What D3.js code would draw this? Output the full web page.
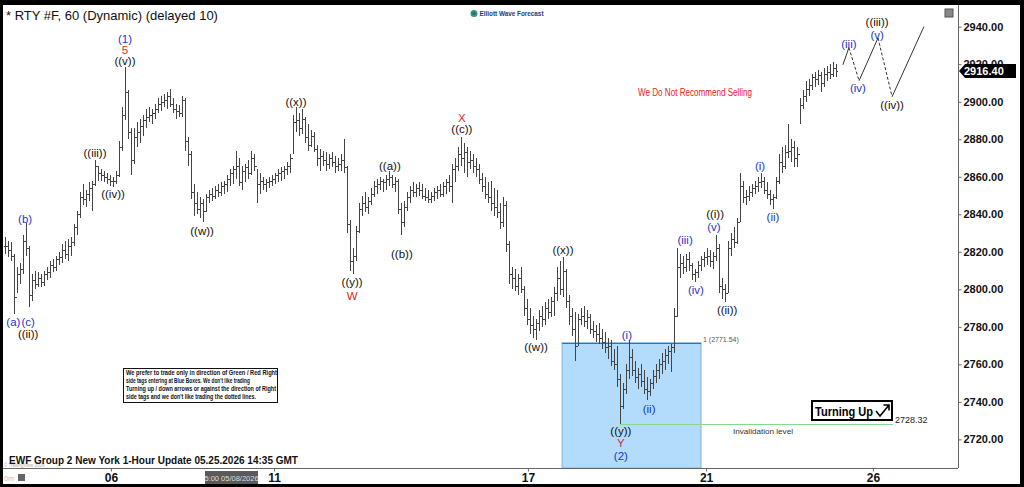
<!DOCTYPE html>
<html><head><meta charset="utf-8">
<script src="https://cdn.jsdelivr.net/npm/d3@7"></script>
<style>
html,body{margin:0;padding:0;background:#000;}
svg{display:block;font-family:"Liberation Sans",Arial,sans-serif;}
</style></head><body>
<svg id="c" width="1024" height="487"></svg>
<script>
// ---------- DATA ----------
const titleText = "* RTY #F, 60 (Dynamic) (delayed 10)";
const footerText = "EWF Group 2 New York 1-Hour Update 05.25.2026 14:35 GMT";
const yTicks = [2720,2740,2760,2780,2800,2820,2840,2860,2880,2900,2920,2940];
const xTickLabels = ["06","11","17","21","26"];
const xTickIdx = [35.3, 89.7, 174.3, 233.7, 289.3];
const lastPrice = 2916.40;
const boxTop = 2771.54;
const boxFrom = 185.7, boxTo = 232;
const invalidation = 2728.32;
const invalidationFrom = 205;
const invalidationTo = 296;
// hourly bars: [high, low, close] (open = previous close)
const bars = [
[2828,2819,2823],[2826,2817,2821],[2825,2815,2818],[2819,2787,2796],[2812,2798,2808],
[2814,2803,2811],[2829,2808,2826],[2835.5,2818,2822],[2823,2790.7,2797],[2808,2794,2805],
[2810,2800,2803],[2809,2801,2806],[2808,2801,2804],[2810,2802,2808],[2812,2805,2809],
[2815,2806,2813],[2816,2809,2812],[2818,2810,2816],[2820,2813,2817],[2824,2814,2821],
[2826,2816,2819],[2827,2815,2823],[2828,2818,2825],[2835,2823,2833],[2842,2829,2840],
[2852,2838,2849],[2856,2845,2848],[2853,2844,2851],[2857,2847,2854],[2858,2842,2856],
[2869,2855,2866],[2866,2858,2862],[2864,2858,2861],[2863,2857,2860],[2862,2856,2859],
[2861,2855,2858],[2860,2854.5,2858],[2863,2856,2861],[2879,2860,2876],[2897,2874,2893],
[2918.7,2890,2905],[2906,2880,2884],[2886,2861,2869],[2886,2867,2881],[2889,2876,2884],
[2891,2878,2887],[2893,2882,2890],[2896,2886,2892],[2897,2889,2893],[2896,2888,2894],
[2899,2891,2896],[2902,2894,2899],[2903,2895,2900],[2904,2897,2901],[2905,2896,2903],
[2907,2897,2899],[2902,2894,2896],[2899,2891,2895],[2898,2892,2894],[2903,2892,2901],
[2902,2874,2879],[2881,2866,2872],[2874,2848,2852],[2856,2839,2846],[2852,2840,2843],
[2849,2838,2846],[2848,2836,2842],[2851,2841,2849],[2853,2846,2851],[2854,2847,2850],
[2855,2848,2853],[2856,2849,2852],[2857,2850,2855],[2858,2851,2856],[2861,2852,2859],
[2864,2855,2862],[2866,2856,2864],[2874,2859,2866],[2870,2855,2857],[2866,2853,2863],
[2867,2857,2865],[2869,2859,2862],[2874,2861,2870],[2872,2863,2866],[2864,2846,2856],
[2862,2851,2858],[2860,2853,2856],[2859,2852,2857],[2860,2854,2858],[2861,2855,2859],
[2862,2856,2861],[2864,2857,2862],[2865,2858,2863],[2866,2859,2864],[2868,2861,2866],
[2872,2862,2870],[2893,2872,2889],[2897,2884,2890],[2894,2882,2886],[2896,2883,2891],
[2892,2878,2881],[2888,2874,2877],[2885,2876,2882],[2884,2873,2875],[2877,2866,2870],
[2875,2863,2871],[2874,2866,2869],[2873,2863,2867],[2872,2864,2870],[2873,2865,2868],
[2871,2862,2866],[2870,2863,2867],[2872,2863,2869],[2880,2862,2865],[2866,2830,2835],
[2837,2810,2815],[2822,2808,2818],[2834,2815,2831],[2846,2830,2843],[2850,2839,2846],
[2852,2841,2844],[2849,2840,2847],[2854,2845,2851],[2858,2849,2855],[2859,2851,2856],
[2860,2853,2858],[2859,2852,2857],[2861,2853,2859],[2863,2855,2860],[2861,2854,2856],
[2860,2852,2858],[2859,2840,2843],[2846,2829,2836],[2847,2833,2844],[2852,2842,2849],
[2855,2846,2853],[2857,2849,2852],[2856,2849,2854],[2857,2850,2853],[2856,2848,2850],
[2854,2847,2849],[2853,2846,2848],[2852,2846,2850],[2854,2847,2852],[2855,2848,2853],
[2856,2849,2851],[2857,2849,2855],[2859,2851,2857],[2861,2852,2855],[2867,2846,2864],
[2870,2857,2866],[2876,2863,2872],[2881,2866,2870],[2878,2862,2873],[2876,2860,2868],
[2874,2864,2869],[2872,2862,2866],[2870,2860,2864],[2867,2856,2859],[2862,2852,2855],
[2860,2848,2851],[2857,2846,2849],[2858,2842,2846],[2854,2839,2844],[2853,2838,2841],
[2846,2832,2836],[2849,2833,2845],[2847,2820,2824],[2826,2803,2808],[2812,2800,2806],
[2811,2799,2802],[2808,2797,2806],[2812,2798,2800],[2802,2786,2790],[2795,2781,2784],
[2790,2776,2781],[2786,2774,2779],[2784,2773,2782],[2789,2778,2786],[2791,2780,2784],
[2793,2781,2790],[2795,2784,2788],[2796,2785,2794],[2801,2786,2798],[2812,2794,2806],
[2815,2797,2800],[2817,2796,2810],[2811,2790,2794],[2797,2781,2786],[2790,2775,2779],
[2788,2762,2770],[2787,2770,2784],[2790,2781,2786],[2791,2780,2783],[2789,2779,2785],
[2787,2776,2779],[2783,2774,2778],[2781,2772,2776],[2782,2771,2774],[2779,2768,2772],
[2777,2766,2769],[2774,2763,2770],[2773,2759,2762],[2768,2757,2760],[2770,2748,2752],
[2755,2728.32,2738],[2750,2736,2747],[2760,2744,2757],[2773,2752,2764],[2768,2754,2757],
[2762,2750,2753],[2758,2747,2755],[2760,2748,2751],[2757,2744,2747],[2753,2741,2746],
[2752,2743,2750],[2757,2747,2754],[2760,2750,2757],[2763,2752,2760],[2766,2755,2762],
[2768,2757,2765],[2770,2760,2767],[2771,2756,2769],[2790,2766,2786],[2822,2785,2812],
[2819,2806,2814],[2818,2808,2812],[2819,2809,2816],[2820,2810,2813],[2814,2805,2808],
[2811,2804,2809],[2815,2806,2813],[2818,2810,2816],[2820,2812,2817],[2822,2813,2818],
[2821,2812,2815],[2820,2811,2818],[2829,2815,2822],[2824,2798,2802],[2806,2795,2800],
[2803,2793,2798],[2826,2798,2822],[2830,2818,2827],[2833,2822,2825],[2838,2824,2836],
[2862,2836,2855],[2858,2846,2849],[2853,2845,2850],[2855,2847,2852],[2856,2849,2854],
[2858,2851,2855],[2860,2852,2857],[2862,2854,2858],[2860,2851,2853],[2857,2848,2851],
[2853,2845,2848],[2851,2843,2849],[2860,2848,2858],[2872,2856,2868],[2876,2862,2866],
[2877,2864,2873],[2888,2870,2874],[2880,2868,2876],[2879,2865,2870],[2876,2865,2872],
[2902,2888,2898],[2906,2896,2903],[2911,2900,2907],[2912,2903,2909],[2915,2906,2913],
[2916,2908,2912],[2917,2909,2914],[2916,2905,2910],[2918,2908,2915],[2919,2911,2916],
[2920,2912,2915],[2921,2913,2918],[2920,2913,2916.4]
];
// projected path (bar index, price)
const projection = [[279.3,2919.7],[281.3,2928.8],[284.7,2911.2],[291,2934],[295.7,2902.7],[306.3,2940]];
const projDashed = [false,true,false,true,false];
// wave labels: text, bar index, price, colour group
const waveLabels = [
["(1)",40,2933.6,"b"],["5",40,2927.7,"r"],["((v))",40,2921.9,"k"],
["((iii))",30,2872.8,"k"],["((iv))",36,2850.9,"k"],
["(b)",6.7,2837.6,"b"],["(a)",2.8,2782.8,"b"],["(c)",7.7,2782.8,"b"],["((ii))",7.7,2776.3,"k"],
["((w))",65.7,2831.2,"k"],["((x))",97,2900,"k"],["((y))",115.7,2804,"k"],["W",115.7,2796.5,"r"],
["((a))",128.3,2865.9,"k"],["((b))",132.3,2818.9,"k"],["X",152.3,2891.5,"r"],["((c))",152.3,2885.6,"k"],
["((w))",177,2769.3,"k"],["((x))",186,2821.1,"k"],["(i)",207.3,2775.7,"b"],["(ii)",214.7,2736.3,"b"],
["((y))",205.3,2724.5,"k"],["Y",205.3,2718.1,"y"],["(2)",205.3,2711.2,"b"],
["(iii)",226.7,2826.4,"b"],["(iv)",230.3,2799.7,"b"],["((i))",236.7,2840.3,"k"],["(v)",236.3,2833.3,"b"],["((ii))",240.7,2789.1,"k"],
["(i)",251.7,2865.9,"b"],["(ii)",256,2838.7,"b"],
["(iii)",281.3,2930.9,"b"],["(iv)",284.3,2907.5,"b"],["((iii))",290.7,2942.7,"k"],["(v)",290.7,2935.7,"b"],["((iv))",295.7,2898.4,"k"]
];
const noteLines = [
"We prefer to trade only in direction of Green / Red Right",
"side tags entering at Blue Boxes. We don't like trading",
"Turning up / down arrows or against the direction of Right",
"side tags and we don't like trading the dotted lines."
];
const noteWidths = [151,124,150,130];

// ---------- DRAW ----------
const svg = d3.select("#c");
const colors = {b:"#2233cc", r:"#e8231e", k:"#111", y:"#c0304a"};
const L = 3, T = 5, R = 958, B = 468;
const x = d3.scaleLinear().domain([0, 318]).range([5, 959]);
const y = d3.scaleLinear().domain([2720, 2940]).range([439.4, 26.7]);

svg.append("rect").attr("width",1024).attr("height",487).attr("fill","#000");
svg.append("rect").attr("x",L).attr("y",T).attr("width",1020-L).attr("height",484-T).attr("fill","#fff");

svg.append("defs").append("clipPath").attr("id","plot")
  .append("rect").attr("x",L).attr("y",T).attr("width",R-L).attr("height",B-T);
const plot = svg.append("g").attr("clip-path","url(#plot)");

// blue box
plot.append("rect").attr("x",x(boxFrom)).attr("y",y(boxTop))
  .attr("width",x(boxTo)-x(boxFrom)).attr("height",B-y(boxTop))
  .attr("fill","#b3dbfb").attr("stroke","#7fb4dc").attr("stroke-width",1);
plot.append("line").attr("x1",x(boxFrom)).attr("x2",x(boxTo)).attr("y1",Math.round(y(boxTop))+0.5).attr("y2",Math.round(y(boxTop))+0.5)
  .attr("stroke","#666").attr("stroke-width",1);
plot.append("text").attr("x",x(boxTo)+2).attr("y",y(boxTop)-1).attr("font-size",7).attr("fill","#555").text("1 (2771.54)");

// invalidation line
plot.append("line").attr("x1",x(invalidationFrom)).attr("x2",x(invalidationTo))
  .attr("y1",Math.round(y(invalidation))+0.5).attr("y2",Math.round(y(invalidation))+0.5)
  .attr("stroke","#86d98a").attr("stroke-width",1);
plot.append("text").attr("x",733).attr("y",y(invalidation)+10).attr("font-size",8).attr("fill","#333")
  .attr("textLength",60).attr("lengthAdjust","spacingAndGlyphs").text("Invalidation level");
plot.append("text").attr("x",x(invalidationTo)+2).attr("y",y(invalidation)-1).attr("font-size",9).attr("fill","#222").text(invalidation.toFixed(2));

// bars
const gb = plot.append("g").attr("fill","#444");
bars.forEach((d,i)=>{
  const X = Math.round(x(i));
  const o = i>0 ? bars[i-1][2] : d[2];
  const yh = Math.round(y(d[0])), yl = Math.round(y(d[1]));
  gb.append("rect").attr("x",X).attr("y",yh).attr("width",1).attr("height",Math.max(1,yl-yh));
  gb.append("rect").attr("x",X-1).attr("y",Math.round(y(o))).attr("width",1).attr("height",1);
  gb.append("rect").attr("x",X+1).attr("y",Math.round(y(d[2]))).attr("width",1).attr("height",1);
});

// projection
for(let k=0;k<projection.length-1;k++){
  const a=projection[k], b=projection[k+1];
  plot.append("line").attr("x1",x(a[0])).attr("y1",y(a[1])).attr("x2",x(b[0])).attr("y2",y(b[1]))
    .attr("stroke","#333").attr("stroke-width",1)
    .attr("stroke-dasharray",projDashed[k]?"3,2":null);
}

// wave labels
plot.selectAll("text.w").data(waveLabels).enter().append("text")
  .attr("class","w").attr("x",d=>x(d[1])).attr("y",d=>y(d[2]))
  .attr("text-anchor","middle").attr("dominant-baseline","central")
  .attr("font-size",11.5).attr("fill",d=>colors[d[3]]).text(d=>d[0]);

// recommendation text
plot.append("text").attr("x",638).attr("y",96).attr("font-size",10).attr("fill","#e8231e")
  .attr("textLength",114).attr("lengthAdjust","spacingAndGlyphs").text("We Do Not Recommend Selling");

// note box
plot.append("rect").attr("x",123.5).attr("y",368.5).attr("width",154).attr("height",34)
  .attr("fill","#fff").attr("stroke","#111").attr("stroke-width",1);
noteLines.forEach((t,i)=>{
  plot.append("text").attr("x",126).attr("y",375+i*8).attr("font-size",6.3).attr("font-weight","bold")
    .attr("fill","#111").attr("textLength",noteWidths[i]).attr("lengthAdjust","spacingAndGlyphs").text(t);
});

// Turning Up box
plot.append("rect").attr("x",812).attr("y",401).attr("width",80).attr("height",19)
  .attr("fill","#fff").attr("stroke","#000").attr("stroke-width",2);
plot.append("text").attr("x",815).attr("y",416).attr("font-size",13).attr("font-weight","bold")
  .attr("textLength",58).attr("lengthAdjust","spacingAndGlyphs").attr("fill","#000").text("Turning Up");
plot.append("path").attr("d","M876,411 L880,416 L889,405 M883.5,405 L889,405 L889,410.5")
  .attr("fill","none").attr("stroke","#000").attr("stroke-width",1.6);

// axes borders
svg.append("line").attr("x1",R+0.5).attr("x2",R+0.5).attr("y1",T).attr("y2",B).attr("stroke","#666");
svg.append("line").attr("x1",L).attr("x2",R).attr("y1",B+0.5).attr("y2",B+0.5).attr("stroke","#666");

// y axis
const ya = svg.append("g").attr("transform",`translate(${R+0.5},0)`)
  .call(d3.axisRight(y).tickValues(yTicks).tickFormat(d3.format(".2f")).tickSize(3).tickPadding(2));
ya.select(".domain").remove();
ya.selectAll("text").attr("font-size",11).attr("font-weight","bold").attr("fill","#111").attr("font-family","Liberation Sans, Arial");
ya.selectAll("line").attr("stroke","#666");

// last price tag
const yl = y(lastPrice);
svg.append("path").attr("d",`M${R+1},${yl} L${R+7},${yl-7} L1016,${yl-7} L1016,${yl+7} L${R+7},${yl+7} Z`).attr("fill","#000");
svg.append("text").attr("x",964).attr("y",yl).attr("dominant-baseline","central").attr("font-size",11)
  .attr("font-weight","bold").attr("fill","#fff").text(lastPrice.toFixed(2));

// x axis
const xa = svg.append("g").attr("transform",`translate(0,${B+0.5})`)
  .call(d3.axisBottom(x).tickValues(xTickIdx).tickFormat((d,i)=>xTickLabels[i]).tickSize(3).tickPadding(2));
xa.select(".domain").remove();
xa.selectAll("text").attr("font-size",12).attr("font-weight","bold").attr("fill","#111").attr("font-family","Liberation Sans, Arial");
xa.selectAll("line").attr("stroke","#666");

// crosshair time label
svg.append("rect").attr("x",205).attr("y",471).attr("width",53).attr("height",13).attr("fill","#5a5a5a");
svg.append("text").attr("x",231.5).attr("y",478).attr("text-anchor","middle").attr("dominant-baseline","central")
  .attr("font-size",7.5).attr("fill","#ddd").text("5:00 05/08/2026");

// bottom left bits
svg.append("text").attr("x",4).attr("y",478).attr("dominant-baseline","central").attr("font-size",7).attr("fill","#bbb").text("0m");
svg.append("rect").attr("x",18).attr("y",474).attr("width",7).attr("height",7).attr("fill","#666");
svg.append("text").attr("x",4).attr("y",467).attr("font-size",4.5).attr("fill","#aaa").text("© TradingView 2026");

// title & footer
svg.append("text").attr("x",6).attr("y",20).attr("font-size",13).attr("fill","#111").text(titleText);
svg.append("text").attr("x",9).attr("y",464).attr("font-size",11.5).attr("font-weight","bold").attr("fill","#111")
  .attr("textLength",289).attr("lengthAdjust","spacingAndGlyphs").text(footerText);

// logo
svg.append("circle").attr("cx",474).attr("cy",13.5).attr("r",3.5).attr("fill","#2f9a6a");
svg.append("circle").attr("cx",474).attr("cy",13.5).attr("r",1.6).attr("fill","#2a5db0");
svg.append("text").attr("x",479.5).attr("y",16).attr("font-size",6.5).attr("font-weight","bold").attr("fill","#1d3c78")
  .attr("textLength",64).attr("lengthAdjust","spacingAndGlyphs").text("Elliott Wave Forecast");

// top-right icon
svg.append("rect").attr("x",945).attr("y",9).attr("width",8).attr("height",8).attr("fill","#888").attr("stroke","#555");
</script>
</body></html>
